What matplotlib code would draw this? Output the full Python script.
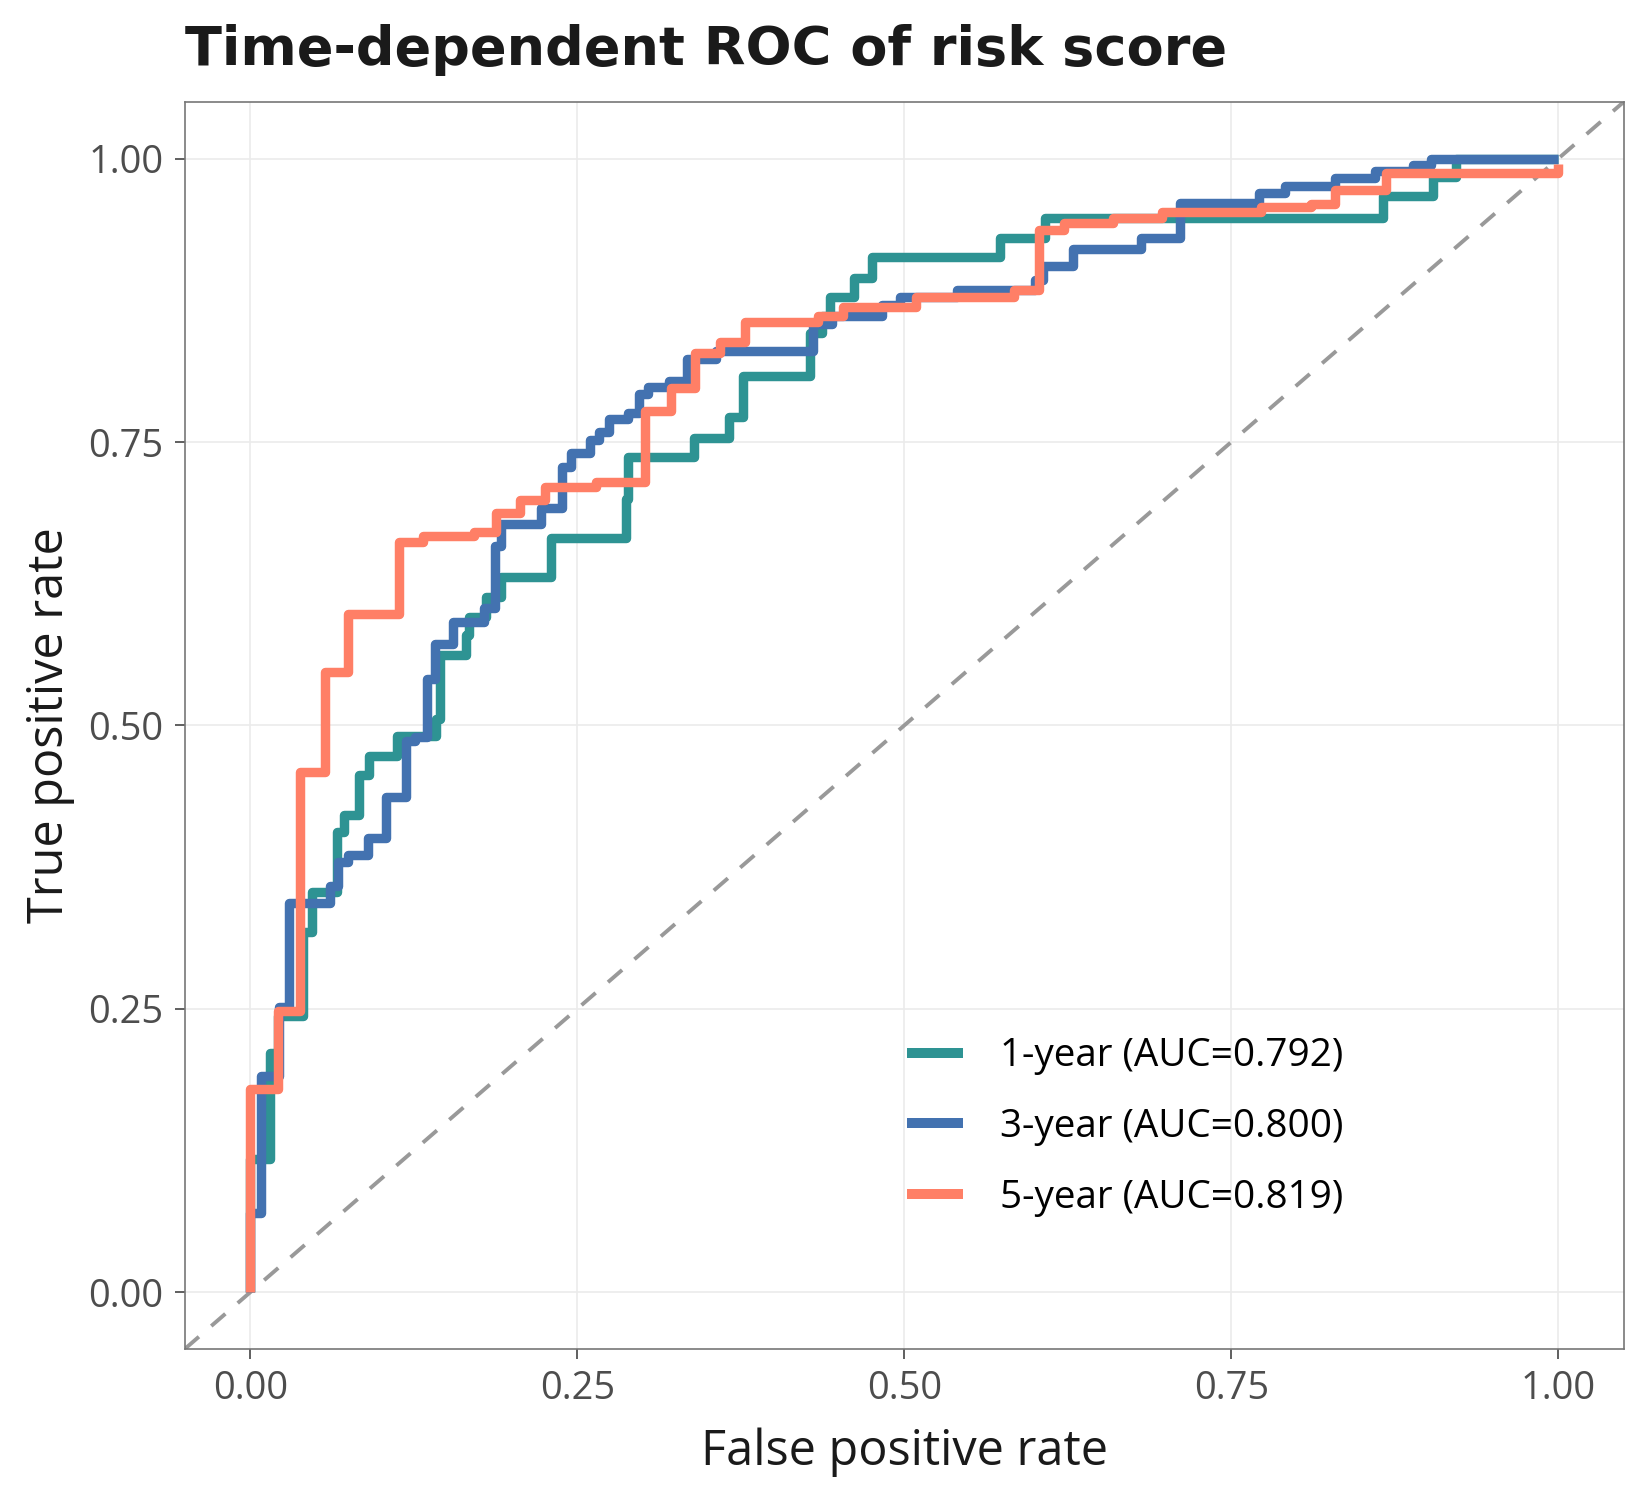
import matplotlib.pyplot as plt

# ROC step points (fpr, tpr)
fpr_1y = [0.0, 0.0, 0.015, 0.021, 0.040, 0.047, 0.066, 0.072, 0.083, 0.091, 0.112, 0.142,
          0.145, 0.165, 0.167, 0.180, 0.192, 0.230, 0.287, 0.289, 0.339, 0.366, 0.377,
          0.428, 0.437, 0.443, 0.462, 0.475, 0.573, 0.608, 0.866, 0.904, 0.922, 1.0]
tpr_1y = [0.0, 0.118, 0.211, 0.244, 0.318, 0.353, 0.406, 0.421, 0.456, 0.473, 0.491, 0.506,
          0.562, 0.580, 0.596, 0.613, 0.631, 0.665, 0.700, 0.737, 0.754, 0.772, 0.808,
          0.846, 0.861, 0.878, 0.895, 0.913, 0.930, 0.948, 0.967, 0.984, 1.0, 1.0]

fpr_3y = [0.0, 0.0, 0.008, 0.022, 0.030, 0.061, 0.067, 0.075, 0.090, 0.104, 0.119, 0.126,
          0.135, 0.141, 0.155, 0.179, 0.187, 0.192, 0.222, 0.238, 0.245, 0.260, 0.267,
          0.274, 0.289, 0.297, 0.304, 0.320, 0.334, 0.356, 0.430, 0.445, 0.483, 0.497,
          0.540, 0.600, 0.606, 0.629, 0.681, 0.711, 0.771, 0.791, 0.829, 0.860, 0.889,
          0.903, 1.0]
tpr_3y = [0.0, 0.070, 0.191, 0.252, 0.343, 0.358, 0.380, 0.386, 0.401, 0.437, 0.486, 0.490,
          0.541, 0.572, 0.591, 0.604, 0.658, 0.678, 0.692, 0.728, 0.740, 0.752, 0.759,
          0.770, 0.776, 0.792, 0.799, 0.804, 0.823, 0.830, 0.854, 0.861, 0.871, 0.878,
          0.884, 0.893, 0.905, 0.920, 0.930, 0.961, 0.970, 0.976, 0.983, 0.989, 0.994,
          1.0, 1.0]

fpr_5y = [0.0, 0.0, 0.021, 0.038, 0.057, 0.075, 0.114, 0.132, 0.171, 0.188, 0.206, 0.225,
          0.264, 0.302, 0.322, 0.340, 0.359, 0.378, 0.434, 0.453, 0.509, 0.584, 0.603,
          0.622, 0.660, 0.697, 0.773, 0.811, 0.829, 0.868, 1.0]
tpr_5y = [0.0, 0.179, 0.248, 0.459, 0.547, 0.598, 0.662, 0.667, 0.671, 0.687, 0.699, 0.710,
          0.715, 0.777, 0.798, 0.829, 0.838, 0.856, 0.861, 0.869, 0.878, 0.884, 0.937,
          0.943, 0.948, 0.953, 0.957, 0.960, 0.972, 0.987, 0.995]

labels = ["1-year (AUC=0.792)", "3-year (AUC=0.800)", "5-year (AUC=0.819)"]
colors = ["#2E9393", "#4372B0", "#FF7F66"]
ticks = [0.0, 0.25, 0.5, 0.75, 1.0]

plt.rcParams["font.family"] = ["Open Sans", "DejaVu Sans"]

fig = plt.figure(figsize=(8.25, 7.5), dpi=200)
ax = fig.add_axes([0.112, 0.1007, 0.872, 0.8313])

ax.plot([-0.05, 1.05], [-0.05, 1.05], color="#999999", lw=1.4,
        linestyle=(0, (4.8, 4.2)), zorder=1)

curves = [(fpr_1y, tpr_1y), (fpr_3y, tpr_3y), (fpr_5y, tpr_5y)]
for (x, y), lab, col in zip(curves, labels, colors):
    ax.plot(x, y, drawstyle="steps-post", color=col, lw=3.4, label=lab,
            solid_joinstyle="round", solid_capstyle="butt", zorder=2)

ax.set_xlim(-0.05, 1.05)
ax.set_ylim(-0.05, 1.05)
ax.set_xticks(ticks)
ax.set_yticks(ticks)
ax.set_xticklabels([f"{t:.2f}" for t in ticks])
ax.set_yticklabels([f"{t:.2f}" for t in ticks])
ax.grid(True, color="#EBEBEB", linewidth=0.6, zorder=0)
ax.set_axisbelow(True)
for s in ax.spines.values():
    s.set_color("#777777")
    s.set_linewidth(0.6)
ax.tick_params(axis="both", length=3.6, width=0.6, color="#444444",
               labelcolor="#4D4D4D", labelsize=13.7, pad=4)

ax.set_xlabel("False positive rate", fontsize=17.5, color="#1A1A1A", labelpad=7)
ax.set_ylabel("True positive rate", fontsize=17.5, color="#1A1A1A", labelpad=5)

fig.text(0.112, 0.957, "Time-dependent ROC of risk score", fontsize=19.5,
         fontweight="bold", family="DejaVu Sans", color="#1A1A1A",
         ha="left", va="baseline")

leg = ax.legend(loc="center left", bbox_to_anchor=(0.502, 0.178), frameon=False,
                fontsize=13.9, handlelength=1.45, handletextpad=0.95,
                labelspacing=0.85, borderpad=0, borderaxespad=0)
for line in leg.get_lines():
    line.set_linewidth(3.6)

fig.savefig("out.png", dpi=200)
